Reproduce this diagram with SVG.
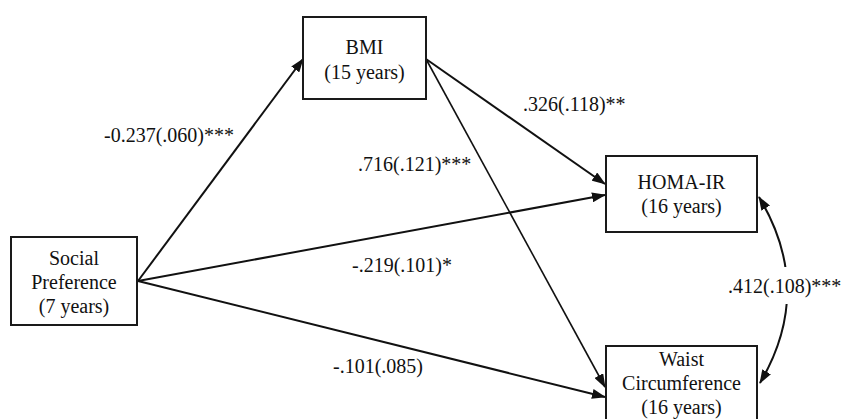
<svg xmlns="http://www.w3.org/2000/svg" width="843" height="419" viewBox="0 0 843 419">
<style>
.box{fill:#fff;stroke:#1a1a1a;stroke-width:2}
.t{font-family:"Liberation Serif","Times New Roman",serif;font-size:20px;fill:#111}
.c{text-anchor:middle}
.e{fill:none;stroke:#111;stroke-width:2}
</style>
<defs>
<marker id="ah" markerUnits="userSpaceOnUse" markerWidth="14" markerHeight="10" refX="13" refY="5" orient="auto-start-reverse">
<path d="M0,0 L14,5 L0,10 Z" fill="#111"/>
</marker>
</defs>
<rect width="843" height="419" fill="#fff"/>
<g id="connectors">
<line class="e" x1="138" y1="281" x2="303" y2="59" marker-end="url(#ah)"/>
<line class="e" x1="426" y1="59" x2="605" y2="184" marker-end="url(#ah)"/>
<line class="e" x1="426" y1="59" x2="605" y2="387" marker-end="url(#ah)" style="stroke-width:1.6"/>
<line class="e" x1="138" y1="281" x2="605" y2="195" marker-end="url(#ah)"/>
<line class="e" x1="138" y1="281" x2="605" y2="397" marker-end="url(#ah)"/>
<path class="e" d="M759,197 Q815,290 760,383" marker-start="url(#ah)" marker-end="url(#ah)"/>
<rect x="770" y="267" width="40" height="37" fill="#fff"/>
<text class="t" x="104" y="142">-0.237(.060)***</text>
<text class="t" x="358" y="171">.716(.121)***</text>
<text class="t" x="523" y="111">.326(.118)**</text>
<text class="t" x="352" y="272">-.219(.101)*</text>
<text class="t" x="333" y="373">-.101(.085)</text>
<text class="t" x="728" y="293">.412(.108)***</text>
</g>
<g id="bmi">
<rect class="box" x="303" y="17" width="123" height="82"/>
<text class="t c" x="364.5" y="54">BMI</text>
<text class="t c" x="364.5" y="79">(15 years)</text>
</g>
<g id="homa">
<rect class="box" x="606" y="156" width="151" height="76"/>
<text class="t c" x="681.5" y="189">HOMA-IR</text>
<text class="t c" x="681.5" y="213">(16 years)</text>
</g>
<g id="waist">
<rect class="box" x="606" y="346" width="151" height="80"/>
<text class="t c" x="681.5" y="366">Waist</text>
<text class="t c" x="681.5" y="390">Circumference</text>
<text class="t c" x="681.5" y="414">(16 years)</text>
</g>
<g id="social">
<rect class="box" x="11" y="237" width="126" height="88"/>
<text class="t c" x="74" y="265">Social</text>
<text class="t c" x="74" y="289">Preference</text>
<text class="t c" x="74" y="313">(7 years)</text>
</g>
</svg>
